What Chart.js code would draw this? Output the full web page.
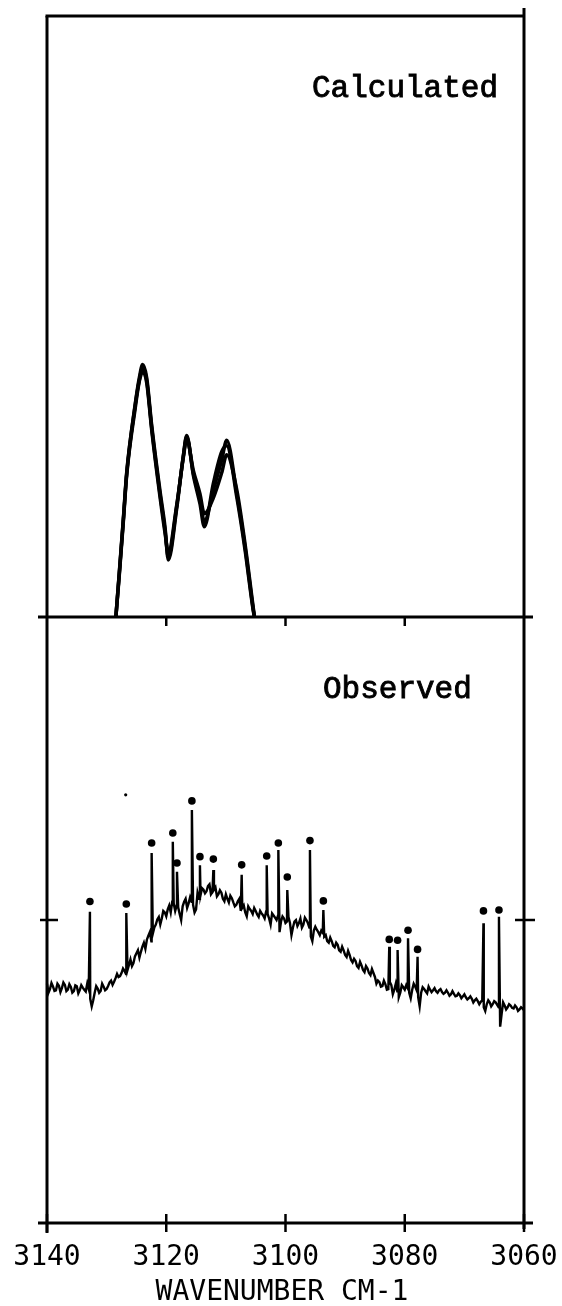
<!DOCTYPE html>
<html>
<head>
<meta charset="utf-8">
<script src="https://cdn.jsdelivr.net/npm/chart.js@4.4.1/dist/chart.umd.min.js"></script>
<style>
  html, body { margin: 0; padding: 0; background: #fff; }
  #wrap { position: relative; width: 562px; height: 1306px; }
  #wrap canvas { position: absolute; left: 0; top: 0; }
</style>
</head>
<body>
<div id="wrap">
  <canvas id="obs" width="562" height="1306"></canvas>
  <canvas id="calc" width="562" height="1306"></canvas>
</div>
<script>
// ---- x axis (wavenumber, cm-1) ----
const xMin = 3060, xMax = 3140;
const tickValues = [3140, 3120, 3100, 3080, 3060];
const innerTicks = [3120, 3100, 3080];
const axisTitle = 'WAVENUMBER CM-1';

// ---- upper panel: calculated band contour (three overlapping traces) ----
const calcWn = [3128.45, 3127.87, 3127.2, 3126.63, 3125.24, 3124.52, 3123.95, 3123.28, 3122.44,
  3121.05, 3120.21, 3119.66, 3118.25, 3117.14, 3116.57, 3115.46, 3114.34, 3113.62, 3112.11,
  3110.7, 3109.86, 3108.18, 3106.79, 3105.4, 3105.2];
const calcA = [0, 0.073, 0.161, 0.239, 0.350, 0.394, 0.416, 0.394, 0.315, 0.205, 0.145, 0.100,
  0.184, 0.267, 0.300, 0.239, 0.195, 0.159, 0.211, 0.261, 0.294, 0.206, 0.117, 0.012, 0];
const calcB = [0, 0.070, 0.158, 0.236, 0.345, 0.392, 0.408, 0.390, 0.311, 0.200, 0.140, 0.108,
  0.186, 0.265, 0.296, 0.244, 0.205, 0.172, 0.198, 0.240, 0.270, 0.212, 0.122, 0.015, 0];
const calcC = [0, 0.075, 0.163, 0.241, 0.352, 0.398, 0.420, 0.398, 0.319, 0.210, 0.150, 0.095,
  0.180, 0.268, 0.302, 0.236, 0.188, 0.150, 0.222, 0.275, 0.285, 0.200, 0.112, 0.010, 0];

// ---- lower panel: observed spectrum ----
// obsVal: samples every 0.5 cm-1 from 3140 down to 3060
const obsStart = 3140, obsStep = 0.5;
const obsVal = [
  0.790, 0.772, 0.781, 0.768, 0.783, 0.775, 0.786, 0.770, 0.779, 0.765,
  0.781, 0.769, 0.777, 0.764, 0.772, 0.715, 0.760, 0.774, 0.766, 0.780,
  0.772, 0.794, 0.786, 0.808, 0.812, 0.825, 0.832, 0.835, 0.870, 0.858,
  0.890, 0.876, 0.912, 0.905, 0.948, 0.930, 0.975, 1.002, 0.985, 1.030,
  1.012, 1.048, 1.060, 1.030, 1.042, 1.000, 1.060, 1.040, 1.075, 1.050,
  1.035, 1.070, 1.105, 1.088, 1.112, 1.085, 1.100, 1.078, 1.098, 1.070,
  1.085, 1.058, 1.072, 1.045, 1.062, 1.030, 1.048, 1.012, 1.036, 1.020,
  1.030, 1.010, 1.022, 1.005, 1.020, 0.985, 1.015, 1.000, 0.960, 1.012,
  0.990, 1.010, 0.950, 0.995, 0.980, 1.005, 0.985, 1.000, 0.975, 0.930,
  0.978, 0.960, 0.965, 0.945, 0.930, 0.942, 0.915, 0.925, 0.900, 0.912,
  0.885, 0.898, 0.868, 0.872, 0.848, 0.862, 0.835, 0.848, 0.825, 0.838,
  0.812, 0.800, 0.780, 0.800, 0.770, 0.795, 0.755, 0.790, 0.745, 0.785,
  0.770, 0.775, 0.742, 0.790, 0.768, 0.715, 0.778, 0.765, 0.780, 0.762,
  0.775, 0.760, 0.772, 0.756, 0.768, 0.750, 0.765, 0.748, 0.758, 0.742,
  0.755, 0.738, 0.748, 0.728, 0.740, 0.722, 0.735, 0.700, 0.735, 0.715,
  0.732, 0.720, 0.648, 0.728, 0.705, 0.722, 0.710, 0.718, 0.700, 0.712, 0.702
];
// obsMid: the in-between samples, 3139.75 down to 3060.25
const obsMid = [
  0.760, 0.792, 0.766, 0.790, 0.762, 0.794, 0.765, 0.788, 0.760, 0.784,
  0.758, 0.785, 0.770, 0.790, 0.740, 0.735, 0.782, 0.760, 0.790, 0.768,
  0.782, 0.800, 0.796, 0.822, 0.815, 0.840, 0.822, 0.852, 0.848, 0.880,
  0.900, 0.895, 0.925, 0.935, 0.960, 0.955, 0.985, 1.010, 1.005, 1.025,
  1.035, 1.025, 1.055, 1.048, 1.020, 1.045, 1.070, 1.055, 1.060, 1.025,
  1.090, 1.082, 1.100, 1.095, 1.118, 1.092, 1.108, 1.085, 1.090, 1.062,
  1.070, 1.080, 1.058, 1.050, 1.070, 1.040, 1.025, 1.045, 1.030, 1.040,
  1.018, 1.030, 1.015, 1.028, 1.005, 1.022, 1.008, 1.015, 0.995, 1.005,
  0.995, 0.990, 0.975, 1.000, 0.990, 0.975, 1.008, 0.990, 0.945, 0.965,
  0.968, 0.950, 0.958, 0.950, 0.925, 0.930, 0.910, 0.918, 0.895, 0.900,
  0.878, 0.885, 0.860, 0.865, 0.842, 0.850, 0.828, 0.840, 0.818, 0.825,
  0.790, 0.795, 0.782, 0.788, 0.772, 0.785, 0.770, 0.765, 0.760, 0.778,
  0.785, 0.760, 0.770, 0.780, 0.745, 0.760, 0.772, 0.758, 0.770, 0.768,
  0.765, 0.768, 0.762, 0.760, 0.760, 0.755, 0.756, 0.750, 0.752, 0.748,
  0.745, 0.742, 0.740, 0.735, 0.732, 0.730, 0.712, 0.722, 0.728, 0.722,
  0.728, 0.712, 0.690, 0.718, 0.712, 0.718, 0.708, 0.712, 0.705, 0.708
];
// sharp lines superimposed on the band, each flagged with a dot
const spikeWn = [3132.8, 3126.7, 3122.45, 3118.9, 3118.2, 3115.7, 3114.35, 3112.1, 3107.35,
  3103.15, 3101.2, 3099.7, 3095.9, 3093.65, 3082.6, 3081.2, 3079.45, 3077.85, 3066.8, 3064.2];
const spikeTop = [1.027, 1.023, 1.221, 1.258, 1.159, 1.363, 1.181, 1.165, 1.149,
  1.181, 1.231, 1.099, 1.231, 1.033, 0.912, 0.901, 0.940, 0.879, 0.989, 1.011];
const dotVal = [1.061, 1.053, 1.254, 1.287, 1.188, 1.393, 1.209, 1.201, 1.182,
  1.211, 1.254, 1.142, 1.262, 1.063, 0.936, 0.933, 0.966, 0.903, 1.030, 1.033];
const speckWn = [3126.8];
const speckVal = [1.413];
const sideTick = 1;

// ---- build point lists ----
const calcPts = vals => calcWn.map((x, i) => ({ x, y: vals[i] }));
const obsPts = obsVal.map((y, i) => ({ x: obsStart - i * obsStep, y }))
  .concat(obsMid.map((y, i) => ({ x: obsStart - obsStep / 2 - i * obsStep, y })))
  .concat(spikeWn.map((x, i) => ({ x, y: spikeTop[i] })))
  .sort((a, b) => b.x - a.x);
const dotPts = spikeWn.map((x, i) => ({ x, y: dotVal[i] }));
const speckPts = speckWn.map((x, i) => ({ x, y: speckVal[i] }));

const W = 562, H = 1306;
const mono = 'Liberation Mono, Courier New, monospace';
const plotter = 'DejaVu Sans Mono, monospace';

function seg(ctx, x1, y1, x2, y2) {
  ctx.beginPath(); ctx.moveTo(x1, y1); ctx.lineTo(x2, y2); ctx.stroke();
}
function typed(ctx, text, x, y) {
  ctx.font = '31px ' + mono;
  ctx.textAlign = 'left';
  ctx.textBaseline = 'alphabetic';
  ctx.lineWidth = 0.9;
  ctx.fillText(text, x, y);
  ctx.strokeText(text, x, y);
}

const upperFrame = {
  id: 'upperFrame',
  afterDraw(chart) {
    const { ctx, chartArea: a, scales: { x } } = chart;
    ctx.save();
    ctx.strokeStyle = '#000';
    ctx.fillStyle = '#000';
    ctx.lineWidth = 3;
    seg(ctx, a.left - 1.5, a.top, a.right, a.top);
    seg(ctx, a.left, a.top, a.left, a.bottom);
    seg(ctx, a.right, a.top - 8, a.right, a.bottom);
    seg(ctx, a.left - 9, a.bottom, a.right + 9, a.bottom);
    ctx.lineWidth = 2.5;
    innerTicks.forEach(v => {
      const px = x.getPixelForValue(v);
      seg(ctx, px, a.bottom, px, a.bottom + 9);
    });
    typed(ctx, 'Calculated', 312, 97);
    ctx.restore();
  }
};

const lowerFrame = {
  id: 'lowerFrame',
  afterDraw(chart) {
    const { ctx, chartArea: a, scales: { x, y } } = chart;
    ctx.save();
    ctx.strokeStyle = '#000';
    ctx.fillStyle = '#000';
    ctx.lineWidth = 3;
    seg(ctx, a.left, a.top, a.left, a.bottom + 10);
    seg(ctx, a.right, a.top, a.right, a.bottom + 6);
    seg(ctx, a.left - 9, a.bottom, a.right + 9, a.bottom);
    ctx.lineWidth = 2.5;
    tickValues.forEach(v => {
      const px = x.getPixelForValue(v);
      seg(ctx, px, a.bottom - 9, px, a.bottom + 9);
    });
    const ty = y.getPixelForValue(sideTick);
    seg(ctx, a.left - 7, ty, a.left + 11, ty);
    seg(ctx, a.right - 9, ty, a.right + 11, ty);

    ctx.font = '28px ' + plotter;
    ctx.textAlign = 'center';
    ctx.textBaseline = 'alphabetic';
    tickValues.forEach(v => ctx.fillText(String(v), x.getPixelForValue(v), a.bottom + 42));
    ctx.fillText(axisTitle, 282, a.bottom + 77);

    typed(ctx, 'Observed', 323, 698);
    ctx.restore();
  }
};

const common = {
  responsive: false,
  devicePixelRatio: 1,
  animation: false,
  events: [],
  plugins: { legend: { display: false }, tooltip: { enabled: false } }
};

// lower panel: chart area 617..1223
new Chart(document.getElementById('obs'), {
  type: 'line',
  data: {
    datasets: [
      { data: obsPts, borderColor: '#000', borderWidth: 2.4, pointRadius: 0, tension: 0, fill: false, clip: false },
      { type: 'scatter', data: dotPts, showLine: false, pointRadius: 3.8, pointBorderWidth: 0,
        backgroundColor: '#000', borderColor: '#000' },
      { type: 'scatter', data: speckPts, showLine: false, pointRadius: 1.6, pointBorderWidth: 0,
        backgroundColor: '#000', borderColor: '#000' }
    ]
  },
  options: Object.assign({}, common, {
    layout: { padding: { left: 47, right: W - 524, top: 617, bottom: H - 1223 } },
    scales: {
      x: { type: 'linear', reverse: true, min: xMin, max: xMax, display: false },
      y: { type: 'linear', min: 0, max: 2, display: false }
    }
  }),
  plugins: [lowerFrame]
});

// upper panel: chart area 16..617
const calcStyle = { borderColor: '#000', borderWidth: 3.5, pointRadius: 0, fill: false,
  cubicInterpolationMode: 'monotone', clip: false };
new Chart(document.getElementById('calc'), {
  type: 'line',
  data: {
    datasets: [
      Object.assign({ data: calcPts(calcA) }, calcStyle),
      Object.assign({ data: calcPts(calcB) }, calcStyle),
      Object.assign({ data: calcPts(calcC) }, calcStyle)
    ]
  },
  options: Object.assign({}, common, {
    layout: { padding: { left: 47, right: W - 524, top: 16, bottom: H - 617 } },
    scales: {
      x: { type: 'linear', reverse: true, min: xMin, max: xMax, display: false },
      y: { type: 'linear', min: 0, max: 1, display: false }
    }
  }),
  plugins: [upperFrame]
});
</script>
</body>
</html>
